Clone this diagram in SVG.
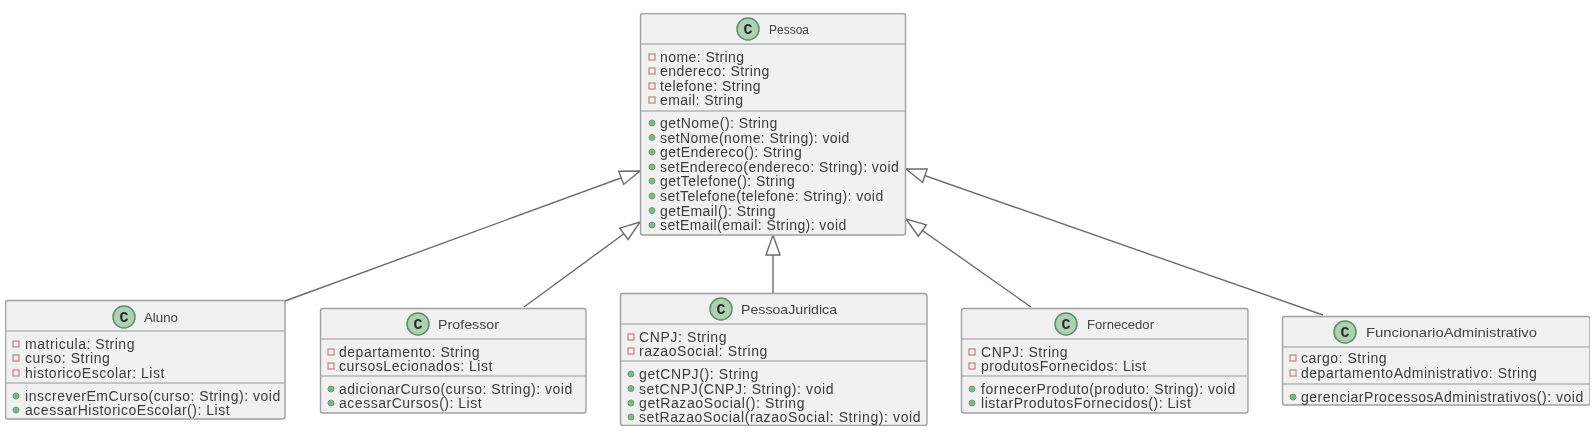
<svg xmlns="http://www.w3.org/2000/svg" width="1595" height="444" viewBox="0 0 1595 444">
<style>
text{font-family:"Liberation Sans",Arial,sans-serif;fill:#3c3c3c}
.b{fill:#f1f1f1;stroke:#a0a0a0;stroke-width:1.4}
.d{stroke:#b4b4b4;stroke-width:1.4}
.i{fill:#add1b2;stroke:#5f8f68;stroke-width:1.5}
.c{font-size:15px;font-weight:bold;text-anchor:middle;font-family:"Liberation Mono",monospace;fill:#2a2a2a}
.t{font-size:13.5px;fill:#444}
.m{font-size:14px;letter-spacing:.52px}
#Pessoa .m{letter-spacing:.43px}
#PessoaJuridica .m{letter-spacing:.6px}
.p{fill:none;stroke:#c48a8a;stroke-width:1.3}
.o{fill:#80b48c;stroke:#6a9f7a;stroke-width:1}
.l{stroke:#6c6c6c;stroke-width:1.4;fill:none;marker-end:url(#h)}
</style>
<defs>
<marker id="h" markerUnits="userSpaceOnUse" markerWidth="24" markerHeight="18" viewBox="0 0 24 18" refX="22" refY="9" orient="auto"><path d="M2 2L22 9L2 16Z" fill="#fff" stroke="#6c6c6c" stroke-width="1.4"/></marker>
<filter id="soft" x="0" y="0" width="1" height="1"><feGaussianBlur stdDeviation="0.4"/></filter>
</defs>
<rect width="1595" height="444" fill="#fff"/>
<g filter="url(#soft)">
<g id="connectors">
<line class="l" x1="285" y1="301" x2="640" y2="171"/>
<line class="l" x1="524" y1="307" x2="640" y2="222"/>
<line class="l" x1="773" y1="293" x2="773" y2="235"/>
<line class="l" x1="1031" y1="307" x2="906" y2="219"/>
<line class="l" x1="1323" y1="315" x2="906" y2="169"/>
</g>
<g id="Pessoa">
<rect class="b" x="640.500" y="13.500" width="265" height="221.500" rx="2.500"/>
<line class="d" x1="641" y1="44" x2="905" y2="44"/><line class="d" x1="641" y1="111" x2="905" y2="111"/>
<circle class="i" cx="748" cy="29" r="11"/><text class="c" x="748" y="34">C</text>
<text class="t" x="769" y="34" textLength="40" lengthAdjust="spacingAndGlyphs">Pessoa</text>
<rect class="p" x="649" y="54" width="6" height="6"/><text class="m" x="660" y="62">nome: String</text>
<rect class="p" x="649" y="68" width="6" height="6"/><text class="m" x="660" y="76">endereco: String</text>
<rect class="p" x="649" y="83" width="6" height="6"/><text class="m" x="660" y="91">telefone: String</text>
<rect class="p" x="649" y="97" width="6" height="6"/><text class="m" x="660" y="105">email: String</text>
<circle class="o" cx="652" cy="123" r="3"/><text class="m" x="660" y="128">getNome(): String</text>
<circle class="o" cx="652" cy="137.500" r="3"/><text class="m" x="660" y="142.500">setNome(nome: String): void</text>
<circle class="o" cx="652" cy="152" r="3"/><text class="m" x="660" y="157">getEndereco(): String</text>
<circle class="o" cx="652" cy="167" r="3"/><text class="m" x="660" y="172">setEndereco(endereco: String): void</text>
<circle class="o" cx="652" cy="181" r="3"/><text class="m" x="660" y="186">getTelefone(): String</text>
<circle class="o" cx="652" cy="196" r="3"/><text class="m" x="660" y="201">setTelefone(telefone: String): void</text>
<circle class="o" cx="652" cy="210.500" r="3"/><text class="m" x="660" y="215.500">getEmail(): String</text>
<circle class="o" cx="652" cy="225" r="3"/><text class="m" x="660" y="230">setEmail(email: String): void</text>
</g>
<g id="Aluno">
<rect class="b" x="5.500" y="300.500" width="279.500" height="118.500" rx="2.500"/>
<line class="d" x1="6" y1="331" x2="285" y2="331"/><line class="d" x1="6" y1="383" x2="285" y2="383"/>
<circle class="i" cx="124" cy="317" r="11"/><text class="c" x="124" y="322">C</text>
<text class="t" x="144" y="322" textLength="34" lengthAdjust="spacingAndGlyphs">Aluno</text>
<rect class="p" x="13" y="341" width="6" height="6"/><text class="m" x="25" y="349">matricula: String</text>
<rect class="p" x="13" y="355" width="6" height="6"/><text class="m" x="25" y="363">curso: String</text>
<rect class="p" x="13" y="370" width="6" height="6"/><text class="m" x="25" y="378">historicoEscolar: List</text>
<circle class="o" cx="16" cy="396" r="3"/><text class="m" x="25" y="401">inscreverEmCurso(curso: String): void</text>
<circle class="o" cx="16" cy="410" r="3"/><text class="m" x="25" y="415">acessarHistoricoEscolar(): List</text>
</g>
<g id="Professor">
<rect class="b" x="320.500" y="308.500" width="265.500" height="104.500" rx="2.500"/>
<line class="d" x1="321" y1="339" x2="586" y2="339"/><line class="d" x1="321" y1="376" x2="586" y2="376"/>
<circle class="i" cx="418" cy="324" r="11"/><text class="c" x="418" y="329">C</text>
<text class="t" x="438" y="329" textLength="61" lengthAdjust="spacingAndGlyphs">Professor</text>
<rect class="p" x="328" y="349" width="6" height="6"/><text class="m" x="339" y="357">departamento: String</text>
<rect class="p" x="328" y="363" width="6" height="6"/><text class="m" x="339" y="371">cursosLecionados: List</text>
<circle class="o" cx="331" cy="389" r="3"/><text class="m" x="339" y="394">adicionarCurso(curso: String): void</text>
<circle class="o" cx="331" cy="403" r="3"/><text class="m" x="339" y="408">acessarCursos(): List</text>
</g>
<g id="PessoaJuridica">
<rect class="b" x="620.500" y="293.500" width="306.500" height="132" rx="2.500"/>
<line class="d" x1="621" y1="324" x2="927" y2="324"/><line class="d" x1="621" y1="361" x2="927" y2="361"/>
<circle class="i" cx="721" cy="309" r="11"/><text class="c" x="721" y="314">C</text>
<text class="t" x="741" y="314" textLength="96" lengthAdjust="spacingAndGlyphs">PessoaJuridica</text>
<rect class="p" x="628" y="334" width="6" height="6"/><text class="m" x="639" y="342">CNPJ: String</text>
<rect class="p" x="628" y="348" width="6" height="6"/><text class="m" x="639" y="356">razaoSocial: String</text>
<circle class="o" cx="631" cy="374" r="3"/><text class="m" x="639" y="379">getCNPJ(): String</text>
<circle class="o" cx="631" cy="388.500" r="3"/><text class="m" x="639" y="393.500">setCNPJ(CNPJ: String): void</text>
<circle class="o" cx="631" cy="403" r="3"/><text class="m" x="639" y="408">getRazaoSocial(): String</text>
<circle class="o" cx="631" cy="417" r="3"/><text class="m" x="639" y="422">setRazaoSocial(razaoSocial: String): void</text>
</g>
<g id="Fornecedor">
<rect class="b" x="961.500" y="308.500" width="286.500" height="104.500" rx="2.500"/>
<line class="d" x1="962" y1="339" x2="1248" y2="339"/><line class="d" x1="962" y1="376" x2="1248" y2="376"/>
<circle class="i" cx="1066" cy="324" r="11"/><text class="c" x="1066" y="329">C</text>
<text class="t" x="1087" y="329" textLength="67" lengthAdjust="spacingAndGlyphs">Fornecedor</text>
<rect class="p" x="969" y="349" width="6" height="6"/><text class="m" x="981" y="357">CNPJ: String</text>
<rect class="p" x="969" y="363" width="6" height="6"/><text class="m" x="981" y="371">produtosFornecidos: List</text>
<circle class="o" cx="972" cy="389" r="3"/><text class="m" x="981" y="394">fornecerProduto(produto: String): void</text>
<circle class="o" cx="972" cy="403" r="3"/><text class="m" x="981" y="408">listarProdutosFornecidos(): List</text>
</g>
<g id="FuncionarioAdministrativo">
<rect class="b" x="1282.500" y="316.500" width="307.500" height="88.500" rx="2.500"/>
<line class="d" x1="1283" y1="347" x2="1590" y2="347"/><line class="d" x1="1283" y1="384" x2="1590" y2="384"/>
<circle class="i" cx="1345" cy="332" r="11"/><text class="c" x="1345" y="337">C</text>
<text class="t" x="1366" y="337" textLength="171" lengthAdjust="spacingAndGlyphs">FuncionarioAdministrativo</text>
<rect class="p" x="1290" y="355" width="6" height="6"/><text class="m" x="1301" y="363">cargo: String</text>
<rect class="p" x="1290" y="370" width="6" height="6"/><text class="m" x="1301" y="378">departamentoAdministrativo: String</text>
<circle class="o" cx="1293" cy="397" r="3"/><text class="m" x="1301" y="402">gerenciarProcessosAdministrativos(): void</text>
</g>
</g>
</svg>
